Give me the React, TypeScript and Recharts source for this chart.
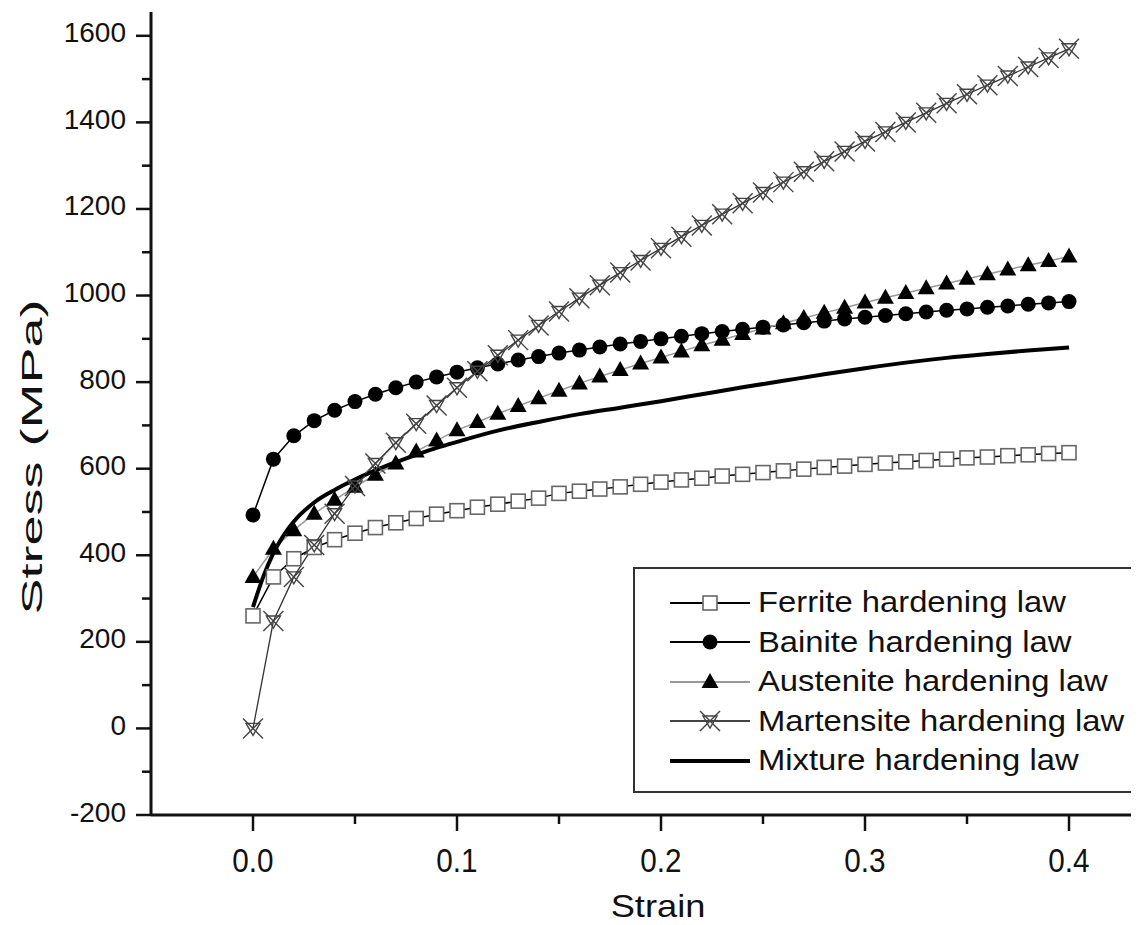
import { LineChart, Line, XAxis, YAxis, Legend, Label } from 'recharts';

const FONT = '"Liberation Sans", Arial, Helvetica, sans-serif';

// strain steps for the marker series
const strain = [
  0, 0.01, 0.02, 0.03, 0.04, 0.05, 0.06, 0.07, 0.08, 0.09, 0.1,
  0.11, 0.12, 0.13, 0.14, 0.15, 0.16, 0.17, 0.18, 0.19, 0.2,
  0.21, 0.22, 0.23, 0.24, 0.25, 0.26, 0.27, 0.28, 0.29, 0.3,
  0.31, 0.32, 0.33, 0.34, 0.35, 0.36, 0.37, 0.38, 0.39, 0.4,
];

const ferrite = [
  260, 350, 392, 418, 436, 451, 464, 475, 485, 495, 503,
  511, 518, 525, 532, 543, 548, 553, 558, 564, 569,
  574, 578, 583, 587, 591, 595, 599, 603, 606, 610,
  613, 616, 619, 622, 625, 627, 630, 632, 635, 637,
];

const bainite = [
  493, 622, 676, 711, 735, 755, 772, 787, 800, 812, 823,
  833, 842, 851, 859, 867, 874, 881, 888, 894, 900,
  906, 912, 917, 922, 927, 932, 937, 941, 946, 950,
  954, 958, 962, 966, 969, 973, 976, 980, 983, 986,
];

const austenite = [
  350, 415, 458, 496, 528, 558, 586, 612, 640, 665, 689,
  708, 727, 745, 763, 780, 797, 813, 828, 843, 857,
  871, 885, 898, 911, 924, 936, 948, 960, 972, 984,
  995, 1006, 1017, 1028, 1039, 1049, 1060, 1070, 1080, 1090,
];

const martensite = [
  0, 248, 350, 424, 496, 560, 612, 660, 704, 746, 787,
  825, 862, 897, 931, 963, 994, 1024, 1053, 1081, 1109,
  1136, 1162, 1188, 1213, 1238, 1262, 1286, 1310, 1333, 1356,
  1378, 1400, 1422, 1444, 1465, 1486, 1507, 1528, 1549, 1570,
];

// mixture curve is a plain line, read at its own points
const mixStrain = [
  0, 0.005, 0.01, 0.015, 0.02, 0.03, 0.04, 0.05, 0.06, 0.07, 0.08, 0.09, 0.1,
  0.12, 0.14, 0.16, 0.18, 0.2, 0.22, 0.24, 0.26, 0.28, 0.3, 0.32, 0.34, 0.36, 0.38, 0.4,
];
const mixture = [
  280, 350, 405, 446, 478, 522, 551, 575, 596, 615, 632, 648, 662,
  688, 708, 726, 741, 756, 772, 788, 803, 818, 832, 845, 856, 865, 873, 880,
];

const xTicks = [0, 0.05, 0.1, 0.15, 0.2, 0.25, 0.3, 0.35, 0.4];
const yTicks = [
  -200, -100, 0, 100, 200, 300, 400, 500, 600, 700, 800, 900,
  1000, 1100, 1200, 1300, 1400, 1500, 1600,
];

const toRows = (xs: number[], ys: number[]) => xs.map((x, i) => ({ x, y: ys[i] }));

const SquareDot = ({ cx, cy }: any) => (
  <rect x={cx - 7} y={cy - 7} width={14} height={14} fill="#fff" stroke="#666" strokeWidth={1.6} />
);
const CircleDot = ({ cx, cy }: any) => <circle cx={cx} cy={cy} r={7.5} fill="#000" />;
const TriangleDot = ({ cx, cy }: any) => (
  <polygon points={`${cx},${cy - 9} ${cx - 8.5},${cy + 6} ${cx + 8.5},${cy + 6}`} fill="#000" />
);
const CrossDot = ({ cx, cy }: any) => (
  <g stroke="#444" strokeWidth={1.4} fill="none">
    <line x1={cx - 10} y1={cy - 10} x2={cx + 10} y2={cy + 10} />
    <line x1={cx + 10} y1={cy - 10} x2={cx - 10} y2={cy + 10} />
    <polygon points={`${cx - 7},${cy - 5} ${cx + 7},${cy - 5} ${cx},${cy + 7}`} />
  </g>
);

const XTick = ({ x, y, payload }: any) => {
  const v = payload.value;
  const major = Math.abs(v * 10 - Math.round(v * 10)) < 1e-6;
  return (
    <g>
      <line x1={x} x2={x} y1={y} y2={y + (major ? 16 : 9)} stroke="#111" strokeWidth={2.5} />
      {major && (
        <text
          transform={`translate(${x} ${y + 57}) scale(0.9 1)`}
          textAnchor="middle"
          fontSize={33}
          fontFamily={FONT}
          fill="#111"
        >
          {v.toFixed(1)}
        </text>
      )}
    </g>
  );
};

const YTick = ({ x, y, payload }: any) => {
  const v = payload.value;
  const major = v % 200 === 0;
  return (
    <g>
      <line x1={x - (major ? 15 : 9)} x2={x} y1={y} y2={y} stroke="#111" strokeWidth={2.5} />
      {major && (
        <text
          transform={`translate(${x - 25} ${y + 6.5}) scale(1.0 1)`}
          textAnchor="end"
          fontSize={28}
          fontFamily={FONT}
          fill="#111"
        >
          {v}
        </text>
      )}
    </g>
  );
};

const legendItems = [
  { name: 'Ferrite hardening law', line: '#000', width: 2, Dot: SquareDot },
  { name: 'Bainite hardening law', line: '#000', width: 2, Dot: CircleDot },
  { name: 'Austenite hardening law', line: '#999', width: 2, Dot: TriangleDot },
  { name: 'Martensite hardening law', line: '#444', width: 2, Dot: CrossDot },
  { name: 'Mixture hardening law', line: '#000', width: 4, Dot: null },
];

const LegendBox = () => (
  <div
    style={{
      width: 504,
      height: 226,
      boxSizing: 'border-box',
      border: '2px solid #333',
      background: '#fff',
      paddingTop: 14,
      paddingLeft: 35,
      fontFamily: FONT,
    }}
  >
    {legendItems.map((it) => (
      <div key={it.name} style={{ height: 39.5, display: 'flex', alignItems: 'center', whiteSpace: 'nowrap' }}>
        <svg width={80} height={30} style={{ overflow: 'visible' }}>
          <line x1={0} x2={80} y1={15} y2={15} stroke={it.line} strokeWidth={it.width} />
          {it.Dot && <it.Dot cx={40} cy={15} />}
        </svg>
        <span
          style={{
            display: 'inline-block',
            marginLeft: 8,
            fontSize: 29,
            color: '#111',
            transform: 'scaleX(1.13)',
            transformOrigin: 'left center',
          }}
        >
          {it.name}
        </span>
      </div>
    ))}
  </div>
);

export default function App() {
  return (
    <div style={{ margin: -8, width: 1139, height: 925, overflow: 'hidden', position: 'relative', background: '#fff' }}>
      <LineChart width={1200} height={925} margin={{ top: 12, right: 29, bottom: 0, left: 0 }}>
        <XAxis
          type="number"
          dataKey="x"
          domain={[-0.05, 0.45]}
          ticks={xTicks}
          interval={0}
          tickSize={0}
          tickMargin={0}
          tickLine={false}
          tick={(p: any) => <XTick {...p} />}
          axisLine={{ stroke: '#111', strokeWidth: 3 }}
          height={110}
          allowDataOverflow
        >
          <Label
            content={() => (
              <text
                transform="translate(658 917) scale(1.17 1)"
                textAnchor="middle"
                fontSize={31}
                fontFamily={FONT}
                fill="#111"
              >
                Strain
              </text>
            )}
          />
        </XAxis>
        <YAxis
          type="number"
          domain={[-200, 1655]}
          ticks={yTicks}
          interval={0}
          tickSize={0}
          tickMargin={0}
          tickLine={false}
          tick={(p: any) => <YTick {...p} />}
          axisLine={{ stroke: '#111', strokeWidth: 3 }}
          width={151}
          allowDataOverflow
        >
          <Label
            content={() => (
              <text
                transform="translate(42 457) rotate(-90) scale(1.8 1)"
                textAnchor="middle"
                fontSize={30}
                fontFamily={FONT}
                fill="#111"
              >
                Stress (MPa)
              </text>
            )}
          />
        </YAxis>
        <Legend
          layout="horizontal"
          verticalAlign="middle"
          align="center"
          wrapperStyle={{ left: 633, top: 567, width: 504, height: 226 }}
          content={() => <LegendBox />}
        />
        <Line
          data={toRows(strain, ferrite)}
          dataKey="y"
          name="Ferrite hardening law"
          type="linear"
          stroke="#000"
          strokeWidth={1.5}
          dot={(p: any) => <SquareDot key={`f${p.index}`} cx={p.cx} cy={p.cy} />}
          activeDot={false}
          isAnimationActive={false}
        />
        <Line
          data={toRows(strain, bainite)}
          dataKey="y"
          name="Bainite hardening law"
          type="linear"
          stroke="#000"
          strokeWidth={1.5}
          dot={(p: any) => <CircleDot key={`b${p.index}`} cx={p.cx} cy={p.cy} />}
          activeDot={false}
          isAnimationActive={false}
        />
        <Line
          data={toRows(strain, austenite)}
          dataKey="y"
          name="Austenite hardening law"
          type="linear"
          stroke="#999"
          strokeWidth={1.5}
          dot={(p: any) => <TriangleDot key={`a${p.index}`} cx={p.cx} cy={p.cy} />}
          activeDot={false}
          isAnimationActive={false}
        />
        <Line
          data={toRows(strain, martensite)}
          dataKey="y"
          name="Martensite hardening law"
          type="linear"
          stroke="#333"
          strokeWidth={1.3}
          dot={(p: any) => <CrossDot key={`m${p.index}`} cx={p.cx} cy={p.cy} />}
          activeDot={false}
          isAnimationActive={false}
        />
        <Line
          data={toRows(mixStrain, mixture)}
          dataKey="y"
          name="Mixture hardening law"
          type="monotone"
          stroke="#000"
          strokeWidth={4}
          dot={false}
          activeDot={false}
          isAnimationActive={false}
        />
      </LineChart>
    </div>
  );
}
